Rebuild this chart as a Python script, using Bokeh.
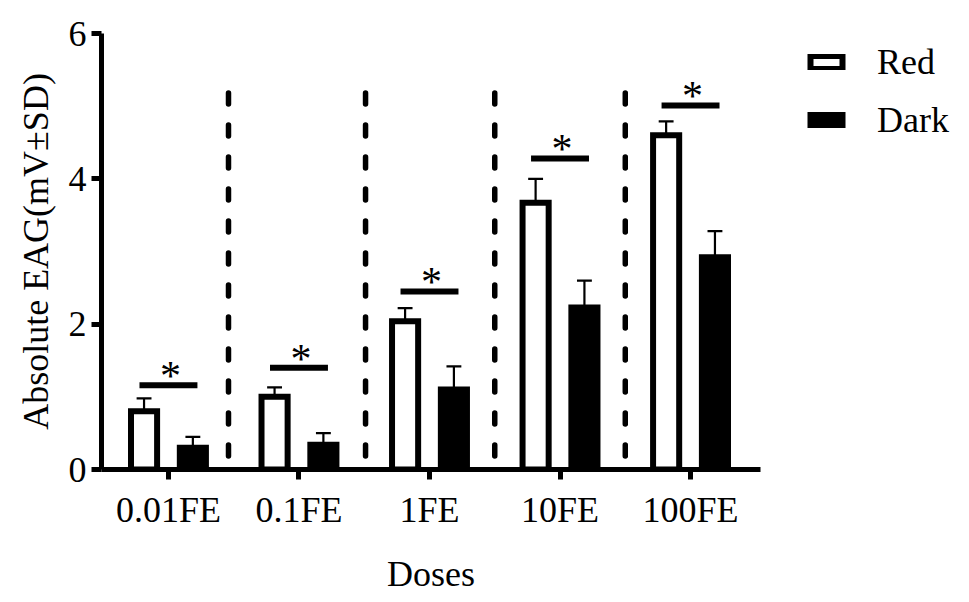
from bokeh.plotting import figure
from bokeh.models import Range1d, FixedTicker, Legend, LegendItem
from bokeh.embed import file_html
from bokeh.resources import INLINE
from bokeh.core.properties import value

categories = ["0.01FE", "0.1FE", "1FE", "10FE", "100FE"]
red_mean = [0.80, 1.00, 2.04, 3.67, 4.60]
red_sd = [0.18, 0.13, 0.18, 0.33, 0.19]
dark_mean = [0.30, 0.34, 1.10, 2.23, 2.92]
dark_sd = [0.15, 0.16, 0.32, 0.37, 0.36]
sig_y = [1.16, 1.40, 2.45, 4.28, 5.01]
divider_x = [0.46, 1.51, 2.50, 3.50]
divider_bottom = 0.12
divider_top = 5.18
y_ticks = [0, 2, 4, 6]

FONT = "Liberation Serif"
FS = "36px"
idx = list(range(len(categories)))
off = 0.187
bw = 0.2
cap = 0.057
half_sig = 0.222

red_x = [i - off for i in idx]
dark_x = [i + off for i in idx]

p = figure(frame_width=659, frame_height=436, output_backend="svg", toolbar_location=None,
           x_range=Range1d(-0.513, 4.536), y_range=Range1d(0, 6),
           min_border_left=101, min_border_right=193, min_border_top=33, min_border_bottom=118)
p.outline_line_color = None
p.xgrid.visible = False
p.ygrid.visible = False
p.background_fill_color = "white"
p.border_fill_color = "white"

# dividers
p.segment(x0=divider_x, y0=[divider_top] * len(divider_x), x1=divider_x, y1=[divider_bottom] * len(divider_x),
          line_color="black", line_width=5.5, line_dash="11 21", line_cap="round")

red_r = p.vbar(x=red_x, top=red_mean, bottom=0, width=bw, fill_color="white",
               line_color="black", line_width=6, line_join="miter")
dark_r = p.vbar(x=dark_x, top=dark_mean, bottom=0, width=bw, fill_color="black",
                line_color="black", line_width=6, line_join="miter")

for xs, m, s in ((red_x, red_mean, red_sd), (dark_x, dark_mean, dark_sd)):
    tops = [a + b for a, b in zip(m, s)]
    p.segment(x0=xs, y0=m, x1=xs, y1=tops, line_color="black", line_width=2.2)
    p.segment(x0=[x - cap for x in xs], y0=tops, x1=[x + cap for x in xs], y1=tops,
              line_color="black", line_width=2.2)

p.segment(x0=[i - half_sig for i in idx], y0=sig_y, x1=[i + half_sig for i in idx], y1=sig_y,
          line_color="black", line_width=6, line_cap="butt")
p.text(x=idx, y=sig_y, text=["*"] * len(idx), text_font=value(FONT), text_font_size="42px",
       text_align="center", text_baseline="alphabetic", y_offset=-9, x_offset=2,
       text_color="black")

# axes
p.xaxis.ticker = FixedTicker(ticks=idx)
p.xaxis.major_label_overrides = {i: c for i, c in zip(idx, categories)}
p.yaxis.ticker = FixedTicker(ticks=y_ticks)
for ax in (p.xaxis[0], p.yaxis[0]):
    ax.axis_line_width = 5
    ax.axis_line_color = "black"
    ax.major_tick_line_width = 5
    ax.major_tick_line_color = "black"
    ax.major_tick_out = 10
    ax.major_tick_in = 0
    ax.minor_tick_line_color = None
    ax.major_label_text_font = FONT
    ax.major_label_text_font_size = FS
    ax.major_label_text_color = "black"
    ax.axis_label_text_font = FONT
    ax.axis_label_text_font_size = FS
    ax.axis_label_text_font_style = "normal"
    ax.axis_label_text_color = "black"
p.xaxis.axis_label = "Doses"
p.yaxis.axis_label = "Absolute EAG(mV±SD)"
p.xaxis.major_label_standoff = 10
p.yaxis.major_label_standoff = 5
p.xaxis.axis_label_standoff = 21
p.yaxis.axis_label_standoff = 10

legend = Legend(items=[LegendItem(label="Red", renderers=[red_r]),
                       LegendItem(label="Dark", renderers=[dark_r])],
                location=(46, 327), margin=0, padding=0, border_line_color=None,
                background_fill_alpha=0, glyph_width=40, glyph_height=16,
                label_height=44, label_standoff=31, spacing=14, label_text_font=FONT,
                label_text_font_size=FS, label_text_color="black")
p.add_layout(legend, "right")

open("out.html", "w").write(file_html(p, INLINE))
